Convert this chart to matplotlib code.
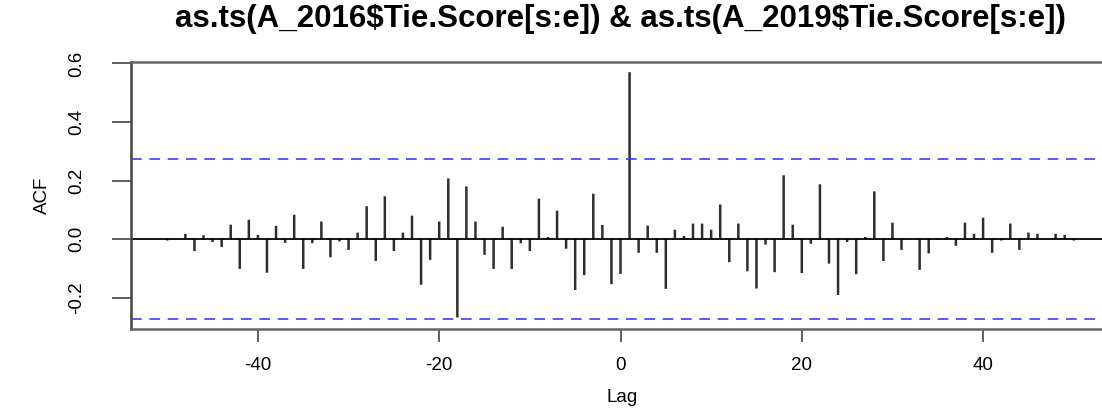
import numpy as np
import matplotlib.pyplot as plt

lags = np.arange(-50, 51)
acf = [
    -0.005, 0.001, 0.018, -0.041, 0.013, -0.010, -0.027, 0.049, -0.102, 0.066,   # -50 .. -41
    0.014, -0.115, 0.045, -0.013, 0.083, -0.102, -0.014, 0.060, -0.062, -0.008,  # -40 .. -31
    -0.037, 0.022, 0.112, -0.075, 0.146, -0.041, 0.022, 0.080, -0.156, -0.071,   # -30 .. -21
    0.060, 0.207, -0.268, 0.180, 0.060, -0.054, -0.102, 0.042, -0.102, -0.014,   # -20 .. -11
    -0.041, 0.138, 0.007, 0.097, -0.033, -0.174, -0.123, 0.155, 0.048, -0.154,   # -10 .. -1
    -0.119,                                                                      # 0
    0.570, -0.047, 0.046, -0.047, -0.170, 0.032, 0.011, 0.053, 0.053, 0.032,     # 1 .. 10
    0.118, -0.079, 0.053, -0.110, -0.169, -0.019, -0.113, 0.218, 0.049, -0.116,  # 11 .. 20
    -0.016, 0.187, -0.084, -0.191, -0.010, -0.120, 0.007, 0.163, -0.075, 0.056,  # 21 .. 30
    -0.037, 0.001, -0.105, -0.049, 0.003, 0.007, -0.023, 0.056, 0.018, 0.073,    # 31 .. 40
    -0.047, -0.005, 0.053, -0.037, 0.022, 0.018, 0.001, 0.018, 0.014, -0.005,    # 41 .. 50
]
n_used = 51
ci = 1.96 / np.sqrt(n_used)

title = "as.ts(A_2016$Tie.Score[s:e]) & as.ts(A_2019$Tie.Score[s:e])"
xticks = [-40, -20, 0, 20, 40]
yticks = [-0.2, 0.0, 0.2, 0.4, 0.6]

plt.rcParams['font.family'] = ['Liberation Sans', 'DejaVu Sans']

W, H = 1102, 411
fig = plt.figure(figsize=(W / 100, H / 100), dpi=100)
# plot box in pixels: left 131, right 1110 (runs off the edge), top 62, bottom 329
ax = fig.add_axes([131 / W, (H - 329.3) / H, (1110 - 131) / W, (329.3 - 62.3) / H])

ax.vlines(lags, 0, acf, colors='#2e2e2e', linewidth=1.8, snap=False)
ax.axhline(0, color='black', linewidth=1.3)
for y in (ci, -ci):
    ax.axhline(y, color='#2a2aff', linewidth=1.1, linestyle=(0, (7, 5)))

ax.set_xlim(-54, 54)
lo = min(min(acf), -ci)
hi = max(max(acf), ci)
pad = 0.04 * (hi - lo)
ax.set_ylim(lo - pad, hi + pad)

ax.set_xticks(xticks)
ax.set_xticklabels([str(t) for t in xticks], fontsize=13.5)
ax.set_yticks(yticks)
ax.set_yticklabels(["%.1f" % t for t in yticks], fontsize=13.5, rotation=90, va='center')
ax.tick_params(axis='x', length=9, width=1.2, color='#444444', pad=11)
ax.tick_params(axis='y', length=14, width=1.2, color='#444444', pad=19)
for s in ax.spines.values():
    s.set_color('#666666')
    s.set_linewidth(1.8)
ax.spines['left'].set_color('#444444')

fig.text(620 / W, 1 - 27 / H, title, ha='center', va='baseline', fontsize=22.5,
         fontweight='bold', parse_math=False)
fig.text(622 / W, 1 - 397 / H, "Lag", ha='center', va='center', fontsize=13.5)
fig.text(42 / W, 1 - 195 / H, "ACF", ha='center', va='center', fontsize=13.5, rotation=90)

fig.savefig("out.png", dpi=100)
